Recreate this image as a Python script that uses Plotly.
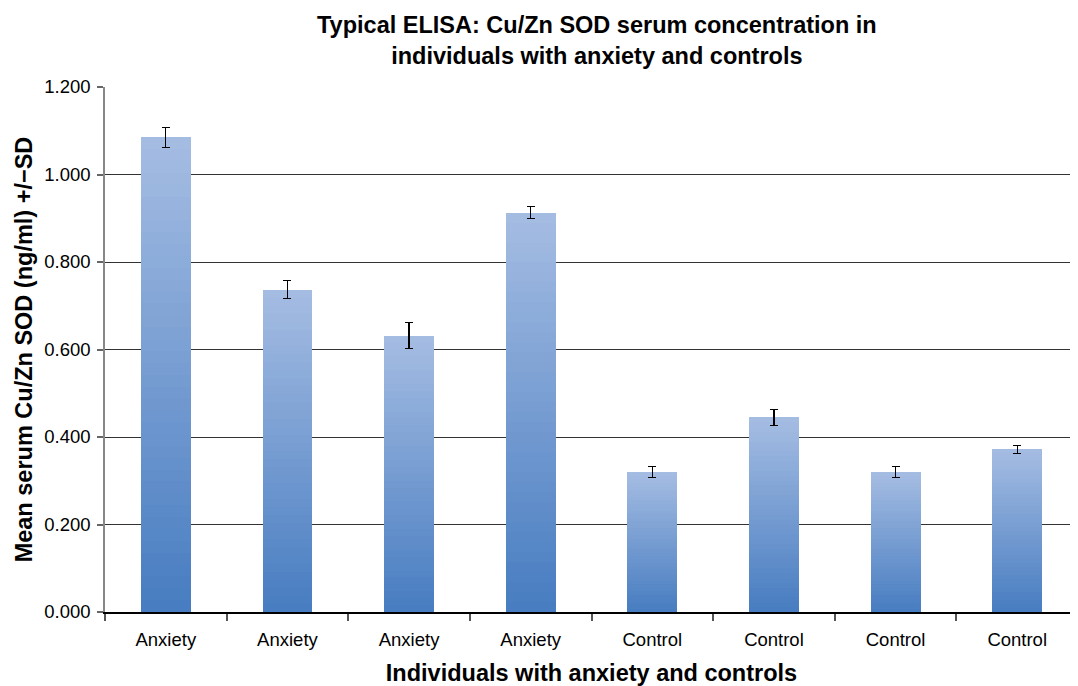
import plotly.graph_objects as go

categories = ["Anxiety", "Anxiety", "Anxiety", "Anxiety", "Control", "Control", "Control", "Control"]
means = [1.085, 0.737, 0.632, 0.913, 0.320, 0.445, 0.320, 0.372]
sds = [0.023, 0.020, 0.030, 0.014, 0.013, 0.018, 0.013, 0.009]
y_ticks = [0.0, 0.2, 0.4, 0.6, 0.8, 1.0, 1.2]

x_pos = list(range(len(categories)))

# gradient: dark at bottom, light at top (per bar), drawn as stacked slices
N = 40
c_bottom = (72, 125, 193)
c_top = (164, 188, 226)

fig = go.Figure()
for k in range(N):
    t = k / (N - 1)
    col = tuple(round(c_bottom[i] + (c_top[i] - c_bottom[i]) * t) for i in range(3))
    last = (k == N - 1)
    fig.add_trace(go.Bar(
        x=x_pos,
        y=[m / N for m in means],
        marker=dict(color="rgb(%d,%d,%d)" % col, line=dict(width=0)),
        error_y=dict(type="data", array=sds, visible=True, color="black",
                     thickness=1.3, width=4) if last else None,
        hoverinfo="skip",
        showlegend=False,
    ))

fig.add_annotation(
    text="<b>Typical ELISA: Cu/Zn SOD serum concentration in<br>individuals with anxiety and controls</b>",
    xref="paper", yref="paper", x=0.5057, y=1.0895,
    xanchor="center", yanchor="middle", showarrow=False,
    font=dict(size=23.5, color="black"),
)

fig.update_layout(
    barmode="stack",
    bargap=0.59,
    width=1070, height=678,
    margin=dict(l=97, r=0, t=79, b=74, autoexpand=False),
    paper_bgcolor="white", plot_bgcolor="white",
    font=dict(family="Liberation Sans, Arial, sans-serif", color="black"),
    xaxis=dict(
        range=[-0.5, len(categories) - 0.5],
        tickmode="array", tickvals=x_pos, ticktext=categories,
        ticks="", showgrid=False, zeroline=False,
        showline=True, linecolor="black", linewidth=1.5,
        tickfont=dict(size=18.5),
        ticklabelstandoff=10,
        automargin=False,
        minor=dict(ticks="outside", tickmode="linear", tick0=-0.5, dtick=1,
                   ticklen=7, tickcolor="#555", tickwidth=1.5, showgrid=False),
        title=dict(text="<b>Individuals with anxiety and controls</b>",
                   font=dict(size=23.5), standoff=17),
    ),
    yaxis=dict(
        range=[0, 1.2],
        tickmode="array", tickvals=y_ticks, tickformat=".3f",
        ticks="outside", ticklen=6, tickcolor="#666", tickwidth=1.5,
        ticklabelstandoff=3,
        showgrid=True, gridcolor="#333", gridwidth=1,
        zeroline=False,
        showline=True, linecolor="#888", linewidth=1.5,
        tickfont=dict(size=18.5),
        automargin=False,
        title=dict(text="<b>Mean serum Cu/Zn SOD (ng/ml) +/\u2212SD</b>",
                   font=dict(size=23.5), standoff=5),
    ),
)

fig.write_html("out.html")
